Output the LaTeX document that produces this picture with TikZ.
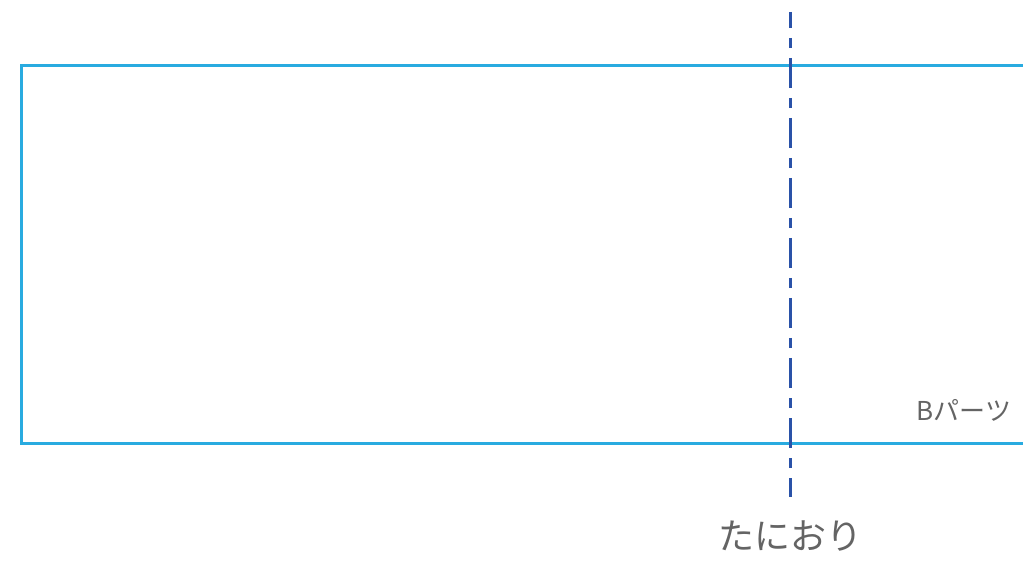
\documentclass[tikz,border=0pt]{standalone}
\usepackage{fontspec}
\newfontfamily\jpfont{Noto Sans CJK JP}
\usetikzlibrary{positioning}
\definecolor{partline}{RGB}{41,171,224}
\definecolor{foldline}{RGB}{42,82,168}
\definecolor{labelgray}{RGB}{100,100,100}

\begin{document}
\begin{tikzpicture}[x=1pt, y=-1pt,
    part/.style={draw=partline, line width=3pt},
    valley/.style={draw=foldline, line width=3pt, dash pattern=on 30pt off 10pt on 10pt off 10pt, dash phase=14pt},
    label/.style={text=labelgray, inner sep=0pt, font=\jpfont}]
  \clip (0,0) rectangle (1023,561);
  \useasboundingbox (0,0) rectangle (1023,561);
  \draw[part] (21,66) rectangle (1040,443);
  \coordinate (foldtop) at (790,12);
  \coordinate (foldbottom) at (790,497);
  \draw[valley] (foldtop) -- (foldbottom);
  \node[label, font=\jpfont\fontsize{26}{30}\selectfont] (partname) at (964,410) {Bパーツ};
  \node[label, font=\jpfont\fontsize{36}{42}\selectfont, below=24pt of foldbottom] (foldname) {たにおり};
\end{tikzpicture}
\end{document}
